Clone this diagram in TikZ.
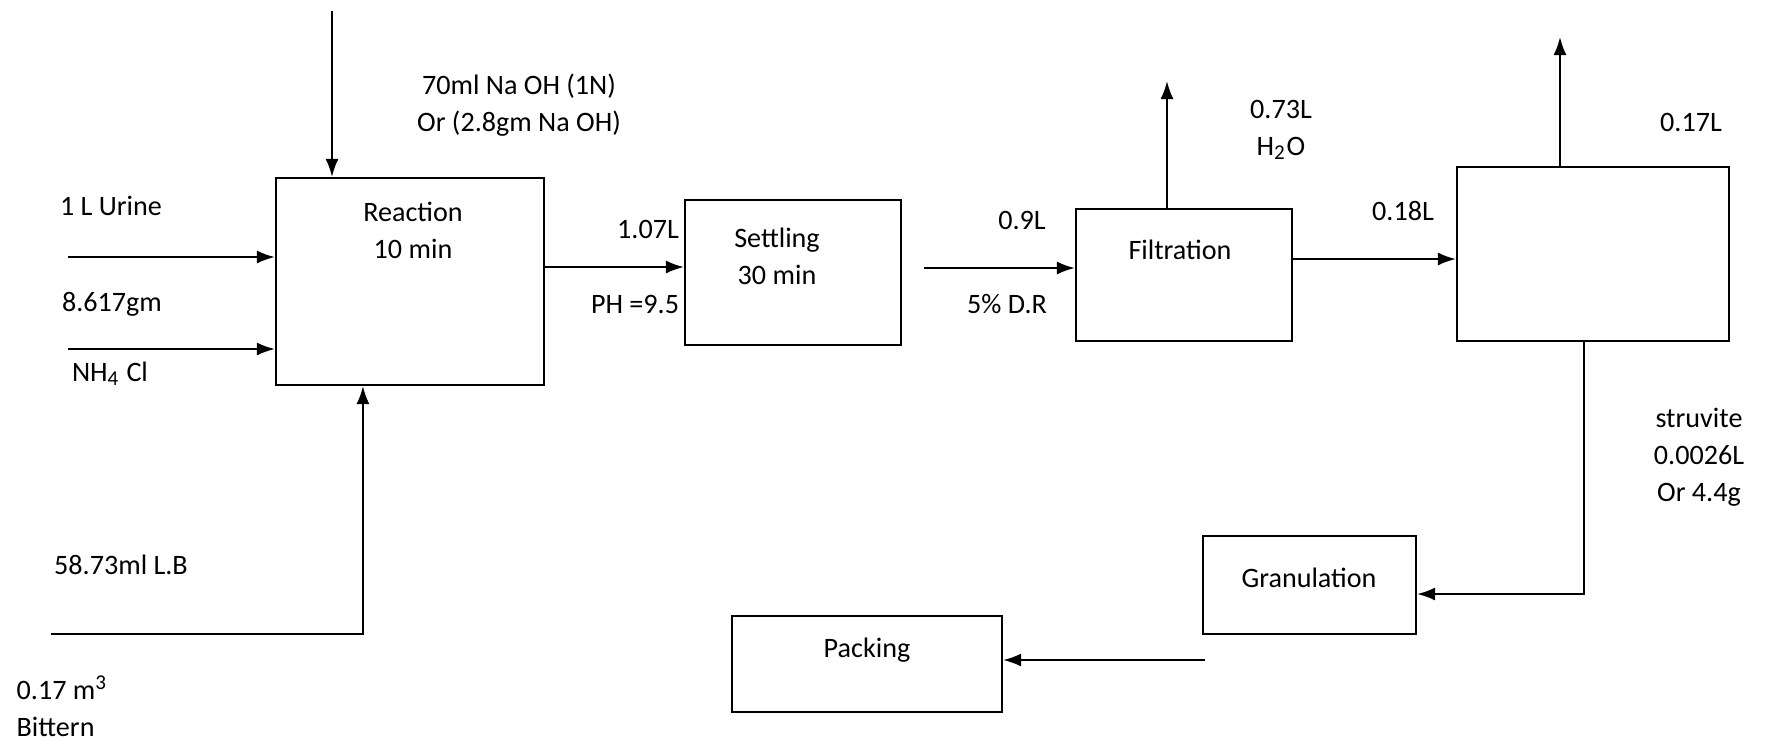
\documentclass[tikz,border=0pt]{standalone}
\usepackage{fontspec}
\setmainfont{Carlito}
\usepackage{tikz}
\usetikzlibrary{positioning, arrows.meta, calc}

\begin{document}
\begin{tikzpicture}[
    font=\fontsize{8}{10.5}\selectfont,
    blk/.style={draw, semithick, inner sep=0pt},
    txt/.style={inner sep=0pt, align=center},
    flow/.style={semithick, -{Latex[length=1.8mm, width=1.3mm]}},
    pipe/.style={semithick}
]
    \useasboundingbox (0,0) rectangle (17.66,-7.41);

    \node[blk, minimum width=2.68cm, minimum height=2.07cm] (reac) at (4.10,-2.815) {};
    \node[blk, minimum width=2.16cm, minimum height=1.45cm] (settle) at (7.93,-2.725) {};
    \node[blk, minimum width=2.16cm, minimum height=1.32cm] (filt) at (11.84,-2.75) {};
    \node[blk, minimum width=2.72cm, minimum height=1.74cm] (sep) at (15.93,-2.54) {};
    \node[blk, minimum width=2.13cm, minimum height=0.98cm] (gran) at (13.095,-5.85) {};
    \node[blk, minimum width=2.70cm, minimum height=0.96cm] (pack) at (8.67,-6.64) {};

    \node[txt] (reacT) at (4.13,-2.30) {Reaction\\10 min};
    \node[txt] (settleT) at (7.77,-2.565) {Settling\\30 min};
    \node[txt] (filtT) at (11.80,-2.50) {Filtration};
    \node[txt] (granT) at (13.09,-5.78) {Granulation};
    \node[txt] (packT) at (8.67,-6.50) {Packing};

    \node[txt] (naoh) at (5.19,-1.055) {70ml Na OH (1N)\\Or (2.8gm Na OH)};
    \node[txt] (urine) at (1.11,-2.06) {1 L Urine};
    \node[txt] (nhq) at (1.12,-3.04) {8.617gm};
    \node[txt] (nhcl) at (1.10,-3.74) {NH\textsubscript{4} Cl};
    \node[txt] (lb) at (1.21,-5.65) {58.73ml L.B};
    \node[txt, anchor=west, align=left] (bittern) at (0.16,-7.06) {0.17 m\textsuperscript{3}\\Bittern};
    \node[txt] (vol1) at (6.48,-2.29) {1.07L};
    \node[txt] (ph) at (6.35,-3.04) {PH =9.5};
    \node[txt] (vol2) at (10.22,-2.20) {0.9L};
    \node[txt] (dr) at (10.07,-3.04) {5\% D.R};
    \node[txt] (water) at (12.81,-1.295) {0.73L\\H\textsubscript{2}O};
    \node[txt] (vol3) at (14.03,-2.11) {0.18L};
    \node[txt] (vol4) at (16.91,-1.22) {0.17L};
    \node[txt] (struv) at (16.99,-4.57) {struvite\\0.0026L\\Or 4.4g};

    \coordinate (naohIn) at (3.32,-0.11);
    \coordinate (urineIn) at (0.68,-2.57);
    \coordinate (nhIn) at (0.68,-3.49);
    \coordinate (bitIn) at (0.51,-6.34);
    \coordinate (drIn) at (9.24,-2.68);
    \coordinate (waterOut) at (11.67,-0.81);
    \coordinate (liqOut) at (15.60,-0.37);
    \coordinate (granOut) at (12.05,-6.60);

    \draw[flow] (naohIn) -- (naohIn |- reac.north);
    \draw[flow] (urineIn) -- (reac.west |- urineIn);
    \draw[flow] (nhIn) -- (reac.west |- nhIn);
    \draw[flow] (bitIn) -| ($(reac.south west)+(0.88,0)$);
    \draw[flow] (reac.east |- 0,-2.67) -- (settle.west |- 0,-2.67);
    \draw[flow] (drIn) -- (filt.west |- drIn);
    \draw[flow] (waterOut |- filt.north) -- (waterOut);
    \draw[flow] (filt.east |- 0,-2.59) -- (sep.west |- 0,-2.59);
    \draw[flow] (liqOut |- sep.north) -- (liqOut);
    \draw[flow] (sep.south -| 15.84,0) |- (gran.east |- 0,-5.94);
    \draw[flow] (granOut) -- (pack.east |- granOut);
\end{tikzpicture}
\end{document}
